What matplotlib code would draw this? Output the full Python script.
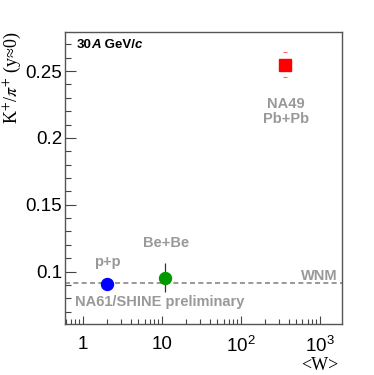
import matplotlib
matplotlib.use("Agg")
import matplotlib.pyplot as plt
import numpy as np
from matplotlib.ticker import FixedLocator, FuncFormatter, MultipleLocator, LogLocator, NullFormatter

# data
systems = ["p+p", "Be+Be", "Pb+Pb"]
w_vals = [2.0, 11.0, 362.0]
ratio = [0.0905, 0.0955, 0.2548]
ratio_err = [0.0, 0.011, 0.0095]
colors = ["#0000ff", "#009900", "#ff0000"]
markers = ["o", "o", "s"]
wnm_value = 0.0912
xtick_vals = [1, 10, 100, 1000]
xtick_labels = ["1", "10", "$10^{2}$", "$10^{3}$"]
ytick_vals = [0.1, 0.15, 0.2, 0.25]
ytick_labels = ["0.1", "0.15", "0.2", "0.25"]

plt.rcParams['font.family'] = ['Liberation Sans', 'DejaVu Sans']
plt.rcParams['mathtext.fontset'] = 'custom'
plt.rcParams['mathtext.rm'] = 'Liberation Sans'
plt.rcParams['mathtext.it'] = 'Liberation Sans:italic'
plt.rcParams['mathtext.bf'] = 'Liberation Sans:bold'

W, H = 374, 375
fig = plt.figure(figsize=(W/100, H/100), dpi=100)
L, R, T, B = 65, 342, 31.7, 323.7
ax = fig.add_axes([L/W, 1-B/H, (R-L)/W, (B-T)/H])

ax.set_xscale('log')
ax.set_xlim(0.59, 1900)
ax.set_ylim(0.061, 0.2795)

# WNM line
ax.axhline(wnm_value, color='#888888', lw=1.2, ls=(0, (3, 2)), zorder=1)

# p+p
ax.plot(w_vals[0], ratio[0], marker=markers[0], color=colors[0], ms=8.6, ls='none', zorder=3)
# Be+Be
ax.errorbar(w_vals[1], ratio[1], yerr=ratio_err[1], fmt='none', ecolor='#333333', elinewidth=0.9, zorder=2)
ax.plot(w_vals[1], ratio[1], marker=markers[1], color=colors[1], ms=8.6, ls='none', zorder=3)
# Pb+Pb
eb = ax.errorbar(w_vals[2], ratio[2], yerr=ratio_err[2], fmt='none', ecolor='#ff6666', elinewidth=0.8, capsize=1.5, capthick=0.8, zorder=2)
for lc in eb[2]:
    lc.set_visible(False)
ax.plot(w_vals[2], ratio[2], marker=markers[2], color=colors[2], ms=8, ls='none', zorder=3)

# ticks
ax.xaxis.set_major_locator(FixedLocator(xtick_vals))
ax.xaxis.set_major_formatter(FuncFormatter(lambda v, p: dict(zip(xtick_vals, xtick_labels)).get(round(v), "")))
ax.xaxis.set_minor_locator(LogLocator(base=10, subs=np.arange(2, 10), numticks=20))
ax.xaxis.set_minor_formatter(NullFormatter())
ax.yaxis.set_major_locator(FixedLocator(ytick_vals))
ax.set_yticklabels(ytick_labels)
ax.yaxis.set_minor_locator(MultipleLocator(0.01))

ax.tick_params(which='both', direction='in', top=False, right=False, colors='#444444', labelcolor='black')
ax.tick_params(axis='y', which='major', length=8, width=0.8, labelsize=13.5, pad=2)
ax.tick_params(axis='y', which='minor', length=4, width=0.8)
ax.tick_params(axis='x', which='major', length=6, width=0.8, labelsize=13.5, pad=9)
ax.tick_params(axis='x', which='minor', length=3.5, width=0.8)
for s in ax.spines.values():
    s.set_color('#555555')
    s.set_linewidth(1.0)

def px(x, y):
    return (x/W, 1-y/H)

gray = '#999999'
gkw = dict(color=gray, fontweight='bold', fontsize=10.5, transform=fig.transFigure)
fig.text(*px(107.7, 262), "p+p", ha='center', va='center', **gkw)
fig.text(*px(165.7, 243), "Be+Be", ha='center', va='center', **gkw)
fig.text(*px(285.7, 104), "NA49", ha='center', va='center', **gkw)
fig.text(*px(285.7, 119), "Pb+Pb", ha='center', va='center', **gkw)
fig.text(*px(338, 276.5), "WNM", ha='right', va='center', **gkw)
fig.text(*px(75, 302), "NA61/SHINE preliminary", ha='left', va='center', **gkw)

# energy label assembled from pieces (bold, with A and c bold-italic)
fig.canvas.draw()
renderer = fig.canvas.get_renderer()
x0 = 76.7
pieces = [("30", 'normal'), ("A", 'italic'), (" GeV/", 'normal'), ("c", 'italic')]
for s, st in pieces:
    t = fig.text(*px(x0, 45), s, ha='left', va='baseline' if False else 'center', fontsize=9.5,
                 fontweight='bold', fontstyle=st, color='black')
    bb = t.get_window_extent(renderer)
    x0 += bb.width

# axis titles (serif)
fig.text(*px(12, 31.5), "K$^{+}$/$\\pi^{+}$ (y\u22480)", rotation=90, ha='center', va='top',
         fontsize=13, family=['Liberation Serif', 'DejaVu Serif'], math_fontfamily='stix')
fig.text(*px(338, 366), "<W>", ha='right', va='center', fontsize=13, family='Liberation Serif')

fig.savefig("out.png", dpi=100)
